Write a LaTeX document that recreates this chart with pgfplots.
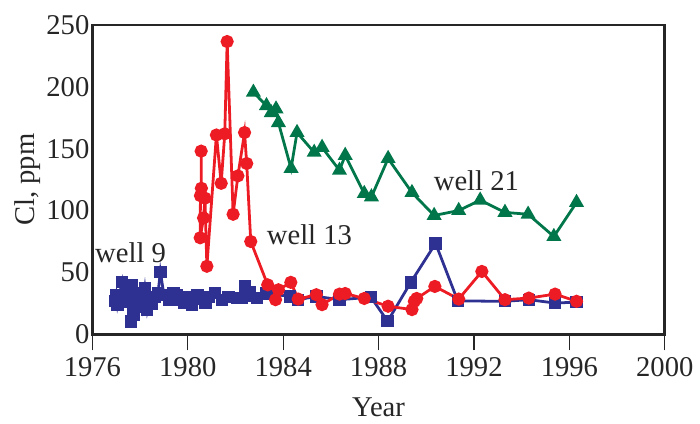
\documentclass[border=0pt]{standalone}
\usepackage{pgfplots}
\pgfplotsset{compat=1.18}
\usepackage{fontspec}
\setmainfont{Liberation Serif}
\definecolor{cred}{RGB}{237,28,36}
\definecolor{cblue}{RGB}{46,49,146}
\definecolor{cgreen}{RGB}{0,118,74}
\pgfplotstableread{
x y
1976.95 27
1977.0 32
1977.05 24
1977.1 29
1977.25 42.5
1977.35 30
1977.45 26
1977.55 33
1977.62 10.5
1977.67 40
1977.72 16
1977.78 30
1977.9 26
1978.0 33
1978.1 22
1978.2 37
1978.3 19.7
1978.4 29
1978.5 25
1978.6 30
1978.75 33
1978.85 50.5
1979.0 31.7
1979.2 28
1979.4 33
1979.55 32
1979.7 28
1979.83 25.3
1979.95 30
1980.18 24
1980.4 32
1980.55 29
1980.74 25.3
1980.9 30
1981.15 33.3
1981.43 28
1981.7 30
1982.05 29.3
1982.26 29.3
1982.4 38.7
1982.5 31
1982.6 34
1982.89 29.3
1983.3 33
1984.28 30.7
1984.63 28
1985.39 30.7
1986.36 28
1987.68 30
1988.38 10.6
1989.35 42
1990.39 73.5
1991.32 27
1993.3 26.7
1994.3 28
1995.39 25.3
1996.3 26
}\wellnine
\pgfplotstableread{
x y
1980.56 148
1980.57 118
1980.53 112
1980.52 78
1980.66 94
1980.72 110
1980.8 55
1981.2 161
1981.4 122
1981.55 162
1981.65 236.5
1981.9 97
1982.1 128
1982.38 163
1982.47 138
1982.64 75
1983.35 40
1983.68 28
1983.8 36
1984.32 42
1984.63 28.5
1985.39 32
1985.63 24
1986.36 32.5
1986.6 33
1987.4 29
1988.4 22.7
1989.4 20
1989.5 26.7
1989.6 29
1990.36 38.7
1991.36 28.5
1992.33 50.8
1993.3 28
1994.3 29.3
1995.4 32.5
1996.3 26.7
}\wellthirteen
\pgfplotstableread{
x y
1982.75 195.5
1983.3 184.7
1983.5 179
1983.7 182
1983.8 171
1984.33 134
1984.58 163
1985.3 147
1985.63 151
1986.36 132.5
1986.6 144.5
1987.4 113.7
1987.7 111
1988.4 142
1989.4 114.5
1990.33 96
1991.36 100
1992.26 108.4
1993.3 98.5
1994.27 97
1995.35 79
1996.3 106.5
}\welltwentyone
\begin{document}
\begin{tikzpicture}[font=\fontsize{14.4}{16}\selectfont]
\begin{axis}[
  scale only axis,
  width=288pt, height=155.75pt,
  xmin=1976, xmax=2000, ymin=0, ymax=250,
  xtick={1976,1980,...,2000},
  ytick={0,50,...,250},
  xtick pos=left,
  tick align=outside,
  x tick style={line width=0.6pt, black!85},
  major tick length=8pt,
  y tick style={draw=none},
  axis line style={line width=1.3pt, black!85},
  xticklabel style={/pgf/number format/1000 sep={}},
  yticklabel style={xshift=10pt},
  /pgf/number format/assume math mode=true,
  tick label style={font=\fontsize{14.4}{16}\selectfont, text=black!85},
  label style={font=\fontsize{14.4}{16}\selectfont, text=black!85},
  xlabel={Year},
  ylabel={Cl, ppm},
  xlabel style={at={(axis description cs:0.5,-0.236)}, anchor=center},
  ylabel style={at={(axis description cs:-0.113,0.5)}, anchor=center},
  clip=false,
]
\addplot[cblue, line width=1.4pt, mark=square*, mark size=2.4pt] table[x=x,y=y] {\wellnine};
\addplot[cred, line width=1.4pt, mark=*, mark size=2.6pt] table[x=x,y=y] {\wellthirteen};
\addplot[cgreen, line width=1.4pt, mark=triangle*, mark size=3pt] table[x=x,y=y] {\welltwentyone};
\draw[line width=1.3pt, black!85] (rel axis cs:0,0) rectangle (rel axis cs:1,1);
\node[text=black!85] at (axis cs:1977.6,66) {well 9};
\node[text=black!85] at (axis cs:1985.1,80.5) {well 13};
\node[text=black!85] at (axis cs:1992.1,124) {well 21};
\end{axis}
\path ([xshift=-46.5pt,yshift=-43.25pt]current axis.south west) ([xshift=15.5pt,yshift=12.5pt]current axis.north east);
\end{tikzpicture}
\end{document}
